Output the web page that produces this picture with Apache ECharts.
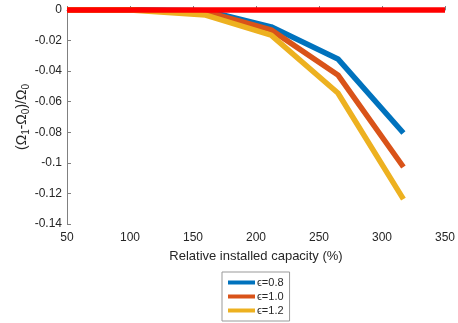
<!DOCTYPE html>
<html>
<head>
<meta charset="utf-8">
<script src="https://cdn.jsdelivr.net/npm/echarts@6/dist/echarts.min.js"></script>
<style>html,body{margin:0;padding:0;background:#fff;}#c{width:458px;height:323px;}</style>
</head>
<body>
<div id="c"></div>
<script>
var capacity = [50, 100, 160, 212, 265, 317];
var eps08 = [0, 0, -0.0005, -0.011, -0.032, -0.0805];
var eps10 = [0, 0, -0.001, -0.013, -0.0425, -0.1027];
var eps12 = [0, 0, -0.0033, -0.0164, -0.0543, -0.1237];
var refX = [50, 350];
var refY = [0, 0];
var names = ['\u03f5=0.8', '\u03f5=1.0', '\u03f5=1.2'];

function pairs(xs, ys) { return xs.map(function (x, i) { return [x, ys[i]]; }); }

var chart = echarts.init(document.getElementById('c'));
var font = 'Liberation Sans, Arial, sans-serif';
chart.setOption({
  animation: false,
  backgroundColor: '#fff',
  grid: { left: 67, right: 11, top: 10, bottom: 99, containLabel: false },
  xAxis: {
    type: 'value', min: 50, max: 350, interval: 50,
    name: 'Relative installed capacity (%)', nameLocation: 'middle', nameGap: 26,
    nameTextStyle: { color: '#262626', fontSize: 13, fontFamily: font },
    axisLine: { show: true, lineStyle: { color: '#808080', width: 1 } },
    axisTick: { show: true, inside: true, length: 4, lineStyle: { color: '#808080' } },
    axisLabel: { color: '#262626', fontSize: 12, fontFamily: font, margin: 8 },
    splitLine: { show: false }
  },
  yAxis: {
    type: 'value', min: -0.14, max: 0, interval: 0.02,
    name: '{a|(\u03a9}{s|1}{a|-\u03a9}{s|0}{a|)/\u03a9}{s|0}', nameLocation: 'middle', nameGap: 36, nameRotate: 90,
    nameMoveOverlap: false,
    nameTextStyle: {
      color: '#262626', fontFamily: font,
      rich: {
        a: { fontSize: 14, color: '#262626', fontFamily: font, lineHeight: 18, verticalAlign: 'middle' },
        s: { fontSize: 10, color: '#262626', fontFamily: font, lineHeight: 18, verticalAlign: 'bottom', padding: [7, 0, 0, 0] }
      }
    },
    axisLine: { show: true, onZero: false, lineStyle: { color: '#808080', width: 1 } },
    axisTick: { show: true, inside: true, length: 4, lineStyle: { color: '#808080' } },
    axisLabel: { color: '#262626', fontSize: 12, fontFamily: font, margin: 5,
      formatter: function (v) { return v === 0 ? '0' : String(Math.round(v * 100) / 100); } },
    splitLine: { show: false }
  },
  legend: {
    data: names,
    orient: 'vertical', left: 222, top: 272, width: 66,
    icon: 'rect', itemWidth: 27, itemHeight: 4, itemGap: 3,
    padding: [5, 6, 5, 6],
    borderColor: '#999', borderWidth: 1, backgroundColor: '#fff',
    textStyle: { color: '#262626', fontSize: 11, fontFamily: font, padding: [0, 0, 0, -3] }
  },
  series: [
    { name: names[0], type: 'line', data: pairs(capacity, eps08), showSymbol: false, symbol: 'none', clip: false,
      lineStyle: { color: '#0072BD', width: 5.5 }, itemStyle: { color: '#0072BD' } },
    { name: names[1], type: 'line', data: pairs(capacity, eps10), showSymbol: false, symbol: 'none', clip: false,
      lineStyle: { color: '#D95319', width: 5.5 }, itemStyle: { color: '#D95319' } },
    { name: names[2], type: 'line', data: pairs(capacity, eps12), showSymbol: false, symbol: 'none', clip: false,
      lineStyle: { color: '#EDB120', width: 5.5 }, itemStyle: { color: '#EDB120' } },
    { name: 'ref', type: 'line', data: pairs(refX, refY), showSymbol: false, symbol: 'none', clip: false,
      lineStyle: { color: '#FF0000', width: 5.5 }, itemStyle: { color: '#FF0000' } }
  ]
});
</script>
</body>
</html>
